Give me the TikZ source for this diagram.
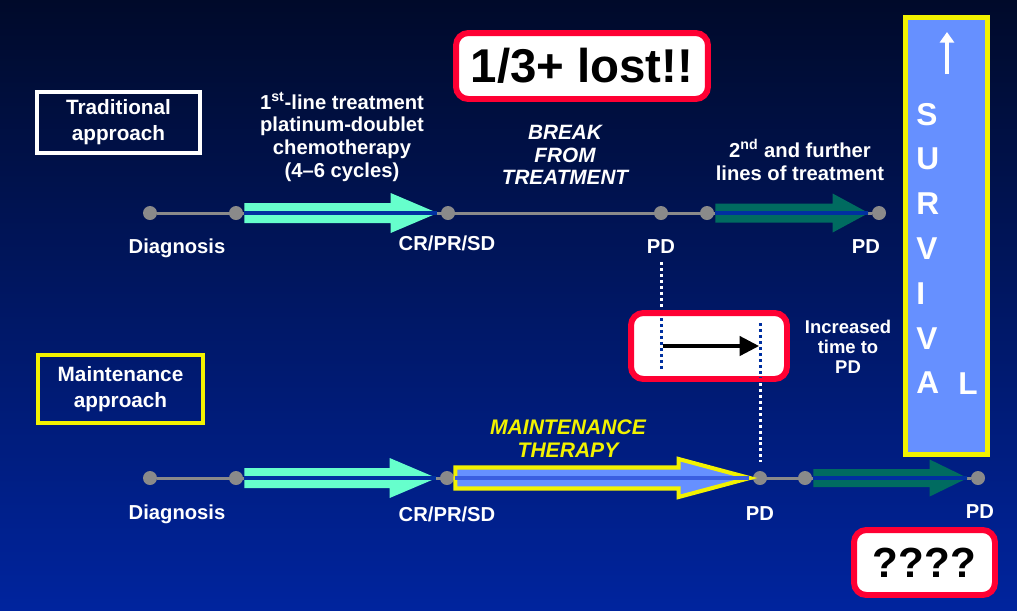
\documentclass[tikz,border=0pt]{standalone}
\usepackage{fontspec}
\setmainfont{Liberation Sans}
\usetikzlibrary{positioning, calc, arrows.meta}

\definecolor{navytop}{HTML}{000A2A}
\definecolor{navybot}{HTML}{00249E}
\definecolor{dotgray}{HTML}{8A8A8A}
\definecolor{aqua}{HTML}{66FFCC}
\definecolor{tealdark}{HTML}{006B60}
\definecolor{stripeblue}{HTML}{0030A0}
\definecolor{skyblue}{HTML}{6690FF}
\definecolor{midblue}{HTML}{3A5EE0}
\definecolor{warnred}{HTML}{FF0033}
\definecolor{hiyellow}{HTML}{F2F200}

\tikzset{
  dot/.style={circle, fill=dotgray, inner sep=0pt, minimum size=0.28cm},
  axis/.style={draw=dotgray, line width=1.7pt},
  lbl/.style={text=white, font=\bfseries\fontsize{11.5}{13}\selectfont, align=center, inner sep=0pt},
  ilbl/.style={lbl, font=\bfseries\itshape\fontsize{11.8}{13}\selectfont},
  approach/.style={lbl, draw, line width=2.3pt, minimum width=3.26cm, minimum height=1.22cm,
    font=\bfseries\fontsize{11.8}{14.7}\selectfont},
  alert/.style={draw=warnred, fill=white, line width=3.4pt, rounded corners=7pt, inner sep=0pt},
  stripe/.style={line width=2.8pt},
  markline/.style={line width=1.7pt, dash pattern=on 1.7pt off 1.7pt},
  survl/.style={text=white, font=\bfseries\fontsize{18}{20}\selectfont, inner sep=0pt, anchor=base west}
}

% fat block arrow from one dot to the next
% #1 from, #2 to, #3 fill style, #4 shaft half, #5 head half, #6 head length, #7 stripe colour
\newcommand{\fatarrow}[7]{%
  \path[#3] ($(#1.east)+(1,#4)$) -- ($(#2.west)+(-#6,#4)$) -- ($(#2.west)+(-#6,#5)$)
    -- ($(#2.west)+(-3,0)$) -- ($(#2.west)+(-#6,-#5)$) -- ($(#2.west)+(-#6,-#4)$)
    -- ($(#1.east)+(1,-#4)$) -- cycle;
  \draw[stripe, #7] ($(#1.east)+(1,0)$) -- ($(#2.west)+(-4,0)$);}

\begin{document}
\begin{tikzpicture}[x=0.02cm, y=-0.02cm]
  % background
  \shade[top color=navytop, bottom color=navybot] (0,0) rectangle (1017,610);
  \useasboundingbox (0,0) rectangle (1017,610);

  % Traditional approach row
  \node[dot] (tA0) at (150,213) {};
  \node[dot] (tA1) at (236,213) {};
  \node[dot] (tCR) at (448,213) {};
  \node[dot] (tPD1) at (661,213) {};
  \node[dot] (tA4) at (707,213) {};
  \node[dot] (tPD2) at (879,213) {};
  \draw[axis] (tA0) -- (tPD2);
  \fatarrow{tA1}{tCR}{fill=aqua}{10}{20}{50}{stripeblue}
  \fatarrow{tA4}{tPD2}{fill=tealdark}{9.5}{19.5}{39}{stripeblue}

  \node[lbl] (tDiag) at (177,248) {Diagnosis};
  \node[lbl] (tCRl) at (447,243) {CR/PR/SD};
  \node[lbl] (tPD1l) at (661,247) {PD};
  \node[lbl] (tPD2l) at (866,247) {PD};

  \node[lbl] (first) at (342,137) {1\textsuperscript{st}-line treatment\\platinum-doublet\\chemotherapy\\(4--6 cycles)};
  \node[ilbl] (brk) at (565,155) {BREAK\\FROM\\TREATMENT};
  \node[lbl] (second) at (800,160) {2\textsuperscript{nd} and further\\lines of treatment};

  \node[approach, draw=white] (trad) at (118.5,122.5) {Traditional\\approach};

  % Maintenance approach row
  \node[dot] (bA0) at (150,478) {};
  \node[dot] (bA1) at (236,478) {};
  \node[dot] (bCR) at (447,478) {};
  \node[dot] (bPD1) at (760,478) {};
  \node[dot] (bA4) at (805,478) {};
  \node[dot] (bPD2) at (978,478) {};
  \draw[axis] (bA0) -- (bPD2);
  \fatarrow{bA1}{bCR}{fill=aqua}{10}{20}{50}{stripeblue}
  \fatarrow{bCR}{bPD1}{fill=skyblue, draw=hiyellow, line width=2.3pt, line join=miter}{10.5}{19}{74}{midblue}
  \fatarrow{bA4}{bPD2}{fill=tealdark}{9}{18.5}{41}{stripeblue}

  \node[lbl] (bDiag) at (177,514) {Diagnosis};
  \node[lbl] (bCRl) at (447,514) {CR/PR/SD};
  \node[lbl] (bPD1l) at (760,514) {PD};
  \node[lbl] (bPD2l) at (980,512) {PD};

  \node[ilbl, text=hiyellow, font=\bfseries\itshape\fontsize{12}{13}\selectfont] (maint) at (568,439) {MAINTENANCE\\THERAPY};
  \node[approach, draw=hiyellow, minimum width=3.3cm, minimum height=1.36cm] (mapp) at (120.5,389) {Maintenance\\approach};

  % increased time to PD
  \coordinate (gTop) at (661,262);
  \coordinate (gEnd) at (661,370);
  \coordinate (hTop) at (760,323);
  \coordinate (hEnd) at (760,462);
  \draw[markline, white] (gTop) -- (gEnd);
  \draw[markline, white] (hTop) -- (hEnd);
  \node[alert, minimum width=3.12cm, minimum height=1.32cm] (gainbox) at (709,346) {};
  \coordinate (gIn) at (661,318);
  \coordinate (hOut) at (760,378);
  \draw[markline, stripeblue] (gIn) -- (gEnd);
  \draw[markline, stripeblue] (hTop) -- (hOut);
  \coordinate (gMid) at (663,346);
  \coordinate (hMid) at (759,346);
  \draw[line width=1.8pt, -{Triangle[length=11pt, width=11pt]}] (gMid) -- (hMid);
  \node[lbl, font=\bfseries\fontsize{10.5}{11.4}\selectfont] (gainlbl) at (848,347) {Increased\\time to\\PD};

  % alert boxes
  \node[alert, minimum width=5.04cm, minimum height=1.32cm,
    font=\bfseries\fontsize{27}{30}\selectfont] (lost) at (582,66) {1/3+ lost!!};
  \node[alert, minimum width=2.82cm, minimum height=1.3cm,
    font=\bfseries\fontsize{24}{26}\selectfont] (unknown) at (924.5,562.5) {????};

  % SURVIVAL column
  \node[draw=hiyellow, fill=skyblue, line width=2.8pt, minimum width=1.64cm, minimum height=8.74cm,
    inner sep=0pt] (surv) at (946.5,236) {};
  \coordinate (upFoot) at (947,74);
  \coordinate (upHead) at (947,32);
  \draw[white, line width=2.3pt, -{Triangle[length=6pt, width=8pt]}] (upFoot) -- (upHead);
  \foreach \ch [count=\i from 0] in {S,U,R,V,I,V,A}
    \node[survl] (sv\i) at (916,{125+44.8*\i}) {\ch};
  \node[survl] (svL) at (958,394) {L};
\end{tikzpicture}
\end{document}
